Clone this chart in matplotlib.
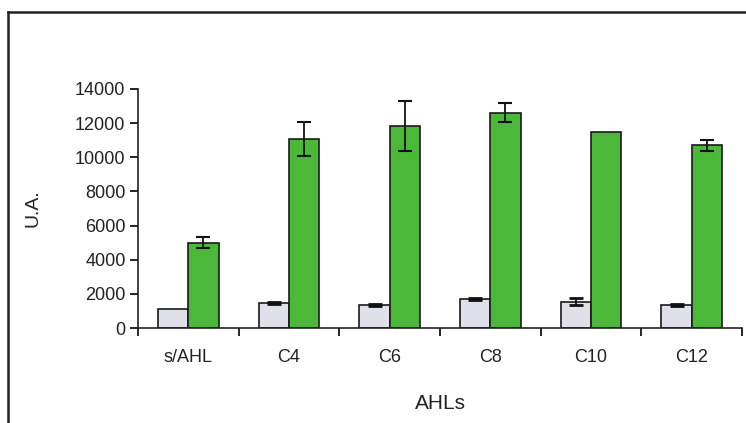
import matplotlib
matplotlib.use("Agg")
import matplotlib.pyplot as plt
import numpy as np
from matplotlib.lines import Line2D

# values
groups = ["s/AHL", "C4", "C6", "C8", "C10", "C12"]
control = [1130, 1480, 1350, 1680, 1540, 1330]
control_err = [0, 60, 60, 60, 210, 60]
treated = [5000, 11070, 11830, 12610, 11480, 10700]
treated_err = [340, 1000, 1480, 550, 0, 340]

plt.rcParams["font.family"] = ["Liberation Sans", "DejaVu Sans"]

fig = plt.figure(figsize=(7.46, 4.23), dpi=100)
ax = fig.add_axes([138 / 746, 95 / 423, 604 / 746, 239 / 423])

x = np.arange(len(groups)) + 0.5
w = 0.3
ax.bar(x - w / 2, control, w, color="#e0e0ea", edgecolor="#1a1a1a", linewidth=1.2)
ax.bar(x + w / 2, treated, w, color="#4cb83a", edgecolor="#1a1a1a", linewidth=1.2)


def draw_err(xs, ys, errs, capthick):
    # skip bars without an error bar in the original
    xs, ys, errs = np.asarray(xs), np.asarray(ys), np.asarray(errs)
    keep = errs > 0
    ax.errorbar(xs[keep], ys[keep], yerr=errs[keep], fmt="none", ecolor="#111111",
                elinewidth=1.3, capsize=5, capthick=capthick)


draw_err(x - w / 2, control, control_err, 2.0)
draw_err(x + w / 2, treated, treated_err, 1.5)

ax.set_xlim(0, len(groups))
ax.set_ylim(0, 14000)
ax.set_yticks(np.arange(0, 14001, 2000))
ax.set_xticks(np.arange(0, len(groups) + 1))
ax.set_xticklabels([])
ax.set_xticks(x, minor=True)
ax.set_xticklabels(groups, minor=True)
ax.tick_params(axis="x", which="minor", length=0, pad=15, labelsize=13, colors="#222222")
ax.tick_params(axis="x", which="major", length=6, width=1.2, direction="out")
ax.tick_params(axis="y", length=6, width=1.2, direction="out", labelsize=13, pad=3,
               labelcolor="#222222")

for side in ["top", "right"]:
    ax.spines[side].set_visible(False)
for side in ["left", "bottom"]:
    ax.spines[side].set_linewidth(1.2)
    ax.spines[side].set_color("#222222")

ax.set_xlabel("AHLs", fontsize=15, labelpad=20, color="#222222")
ax.set_ylabel("U.A.", fontsize=14, color="#222222")
ax.yaxis.set_label_coords(-0.16, 0.5)

# outer frame (left and top edges)
fig.add_artist(Line2D([8 / 746, 8 / 746], [0, 1 - 12 / 423], transform=fig.transFigure,
                      color="#222222", linewidth=1.8))
fig.add_artist(Line2D([8 / 746, 1], [1 - 12 / 423, 1 - 12 / 423], transform=fig.transFigure,
                      color="#222222", linewidth=1.8))

fig.savefig("out.png", dpi=100)
